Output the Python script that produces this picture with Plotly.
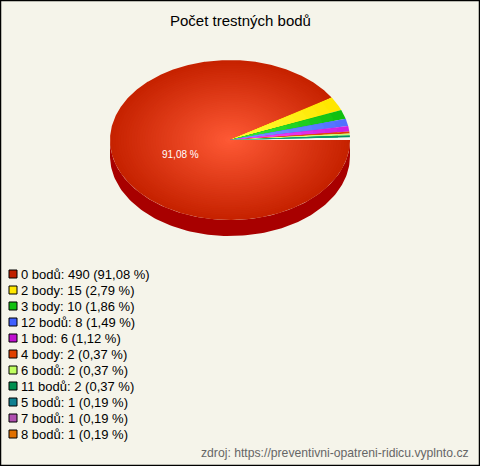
import numpy as np
import plotly.graph_objects as go

title = "Počet trestných bodů"
source = "zdroj: https://preventivni-opatreni-ridicu.vyplnto.cz"
labels = ["0 bodů", "2 body", "3 body", "12 bodů", "1 bod", "4 body", "6 bodů", "11 bodů", "5 bodů", "7 bodů", "8 bodů"]
values = [490, 15, 10, 8, 6, 2, 2, 2, 1, 1, 1]
legend_colors = ["#c02000", "#ffe800", "#10c010", "#4060ff", "#c010d0", "#e04000", "#c0ff60", "#009050", "#108090", "#b050b0", "#e07000"]
# colours at the rim and at the centre of the drawn slices (the last three render white in the reference)
rim_colors = ["#c62200", "#ffe600", "#10c010", "#5070ff", "#d020e0", "#e04000", "#c8ff70", "#009060", "#ffffff", "#ffffff", "#ffffff"]
hub_colors = ["#ff5a36", "#ffff40", "#40f040", "#80a0ff", "#ff50ff", "#ff7040", "#e8ffa0", "#30c090", "#ffffff", "#ffffff", "#ffffff"]
bg = "#f5f4ea"
side_color = "#a80000"
cx, cy, rx, ry, depth = 230, 140, 120, 80, 16


def hex2rgb(h):
    return np.array([int(h[i:i + 2], 16) for i in (1, 3, 5)], float)


def mix(a, b, f):
    c = hex2rgb(a) * (1 - f) + hex2rgb(b) * f
    return "rgb(%d,%d,%d)" % tuple(c.round())


fig = go.Figure()


def poly(x, y, color):
    fig.add_trace(go.Scatter(x=x, y=y, mode="lines", fill="toself", fillcolor=color,
                             line=dict(width=0, color=color), hoverinfo="skip", showlegend=False))


# rim of the pie
t = np.radians(np.linspace(0, 180, 121))
xs = cx + rx * np.cos(t)
ys = cy + ry * np.sin(t)
poly(np.r_[xs, xs[::-1]], np.r_[ys + depth, ys[::-1]], side_color)

# slices, each as nested wedges for the radial gradient
total = sum(values)
angle = 0.0
for v, rim, hub in zip(values, rim_colors, hub_colors):
    sweep = 360.0 * v / total
    a = np.radians(np.linspace(angle, angle + sweep, max(3, int(sweep * 2))))
    steps = 45 if sweep > 90 else (10 if rim != "#ffffff" else 1)
    for s in range(steps, 0, -1):
        f = s / steps
        poly(np.r_[cx, cx + rx * f * np.cos(a), cx],
             np.r_[cy, cy + ry * f * np.sin(a), cy],
             mix(hub, rim, f))
    angle += sweep

# legend
row0, row_h = 274, 16
for i, c in enumerate(legend_colors):
    fig.add_trace(go.Scatter(x=[13], y=[row0 + row_h * i], mode="markers", hoverinfo="skip", showlegend=False,
                             marker=dict(symbol="square", size=8, color=c, line=dict(width=1, color="black"))))

annots = []
for i, (l, v) in enumerate(zip(labels, values)):
    pct = f"{100 * v / total:.2f}".replace(".", ",")
    annots.append(dict(x=20, y=row0 + row_h * i, text=f"{l}: {v} ({pct} %)", xanchor="left", yanchor="middle",
                       xshift=-1, font=dict(size=13, color="#000000")))
annots.append(dict(x=240, y=20, text=title, font=dict(size=15, color="#000000"), xanchor="center", yanchor="middle"))
annots.append(dict(x=471, y=453, text=source, font=dict(size=12.2, color="#666666"), xanchor="right", yanchor="middle"))
pct0 = f"{100 * values[0] / total:.2f}".replace(".", ",")
annots.append(dict(x=180, y=154, text=f"{pct0} %", font=dict(size=10, color="white"), xanchor="center", yanchor="middle"))
for a in annots:
    a.update(xref="x", yref="y", showarrow=False)

axis = dict(visible=False, fixedrange=True)
fig.update_layout(
    width=480, height=466, margin=dict(l=0, r=0, t=0, b=0),
    paper_bgcolor=bg, plot_bgcolor=bg,
    font=dict(family="Liberation Sans, Arial, sans-serif"),
    xaxis=dict(range=[0, 480], **axis), yaxis=dict(range=[466, 0], **axis),
    annotations=annots, showlegend=False,
    shapes=[dict(type="rect", xref="x", yref="y", x0=0.5, y0=0.5, x1=479.5, y1=465.5,
                 line=dict(color="black", width=1.5), layer="above")],
)
fig.write_html("out.html", config={"displayModeBar": False},
               post_script="document.body.style.margin='0';document.documentElement.style.overflow='hidden';")
